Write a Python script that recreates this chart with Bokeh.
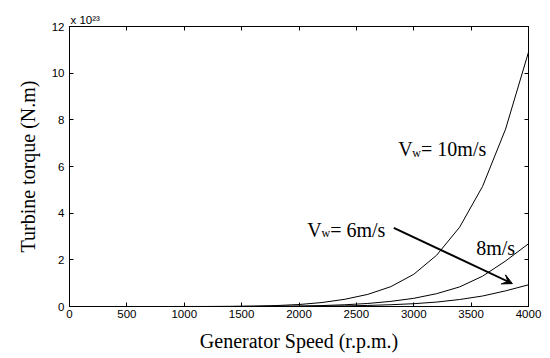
from bokeh.plotting import figure
from bokeh.models import LinearAxis, Label, Arrow, VeeHead, FixedTicker, Range1d, Title
from bokeh.embed import file_html
from bokeh.resources import INLINE

# ---- data ----
speed_rpm = [0, 200, 400, 600, 800, 1000, 1200, 1400, 1600, 1800, 2000,
             2200, 2400, 2600, 2800, 3000, 3200, 3400, 3600, 3800, 4000]
torque_10 = [0.0, 0.0, 0.0, 0.0, 0.0, 0.001, 0.002, 0.006, 0.018, 0.04, 0.085,
             0.17, 0.31, 0.52, 0.85, 1.38, 2.2, 3.4, 5.15, 7.6, 10.9]
torque_8 = [0.0, 0.0, 0.0, 0.0, 0.0, 0.0, 0.0005, 0.0015, 0.0045, 0.01, 0.021,
            0.04, 0.075, 0.13, 0.22, 0.35, 0.55, 0.84, 1.3, 1.95, 2.69]
torque_6 = [0.0, 0.0, 0.0, 0.0, 0.0, 0.0, 0.0, 0.0005, 0.0015, 0.0035, 0.007,
            0.014, 0.026, 0.045, 0.076, 0.12, 0.19, 0.3, 0.45, 0.67, 0.93]
x_ticks = [0, 500, 1000, 1500, 2000, 2500, 3000, 3500, 4000]
y_ticks = [0, 2, 4, 6, 8, 10, 12]

SERIF = "Liberation Serif"
SANS = "Liberation Sans"

p = figure(width=550, height=358, x_range=Range1d(0, 4000), y_range=Range1d(0, 12),
           output_backend="svg", toolbar_location=None,
           min_border_left=69, min_border_right=22, min_border_top=26, min_border_bottom=52)
p.background_fill_color = "white"
p.border_fill_color = "white"
p.outline_line_color = "black"
p.outline_line_width = 1
p.xgrid.visible = False
p.ygrid.visible = False

def style_axis(ax, ticks, labels=True):
    ax.ticker = FixedTicker(ticks=ticks)
    ax.major_tick_in = 4
    ax.major_tick_out = 0
    ax.minor_tick_in = 0
    ax.minor_tick_out = 0
    ax.axis_line_color = "black"
    ax.major_tick_line_color = "black"
    if labels:
        ax.major_label_text_font = SANS
        ax.major_label_text_font_size = "11.5px"
        ax.major_label_text_color = "black"
    else:
        ax.major_label_text_font_size = "0px"
        ax.major_label_standoff = 0
        ax.major_label_overrides = {t: "" for t in ticks}

xa = p.xaxis[0]
style_axis(xa, x_ticks)
xa.major_label_standoff = 3

ya = p.yaxis[0]
style_axis(ya, y_ticks)
ya.major_label_standoff = 5
ya.axis_label = "Turbine torque (N.m)"
ya.axis_label_text_font = SERIF
ya.axis_label_text_font_size = "20px"
ya.axis_label_text_font_style = "normal"
ya.axis_label_text_color = "black"
ya.axis_label_standoff = 10

top_ax = LinearAxis()
style_axis(top_ax, x_ticks, labels=False)
p.add_layout(top_ax, "above")
right_ax = LinearAxis()
style_axis(right_ax, y_ticks, labels=False)
p.add_layout(right_ax, "right")

for t in (torque_10, torque_8, torque_6):
    p.line(speed_rpm, t, line_color="black", line_width=1)

def lab(x, y, text, size, font=SERIF, xo=0, yo=0, align="left"):
    p.add_layout(Label(x=x, y=y, text=text, x_offset=xo, y_offset=yo,
                       text_font=font, text_font_size=size, text_color="black",
                       text_align=align, text_baseline="alphabetic"))

# curve labels
lab(2864, 6.77, "V", "20px")
lab(2988, 6.6, "w", "12px")
lab(3064, 6.77, "= 10m/s", "20px")

lab(2071, 3.3, "V", "20px")
lab(2196, 3.13, "w", "12px")
lab(2272, 3.3, "= 6m/s", "20px")

lab(3544, 2.49, "8m/s", "20px")

p.add_layout(Arrow(x_start=2826, y_start=3.37, x_end=3860, y_end=0.98,
                   line_width=2, line_color="black",
                   end=VeeHead(size=10, fill_color="black", line_color="black", line_width=1)))

# exponent marker (above the frame)
exp_title = Title(text="x 10\u00b2\u00b3", align="left", offset=1, standoff=2,
                  text_font=SANS, text_font_size="11.5px", text_font_style="normal",
                  text_color="black")
p.add_layout(exp_title, "above")

# x axis label (below the frame, slightly left of centre as in the reference)
x_title = Title(text="Generator Speed (r.p.m.)", align="center", offset=-27, standoff=14,
                text_font=SERIF, text_font_size="20px", text_font_style="normal",
                text_color="black")
p.add_layout(x_title, "below")

open("out.html", "w").write(file_html(p, INLINE))
